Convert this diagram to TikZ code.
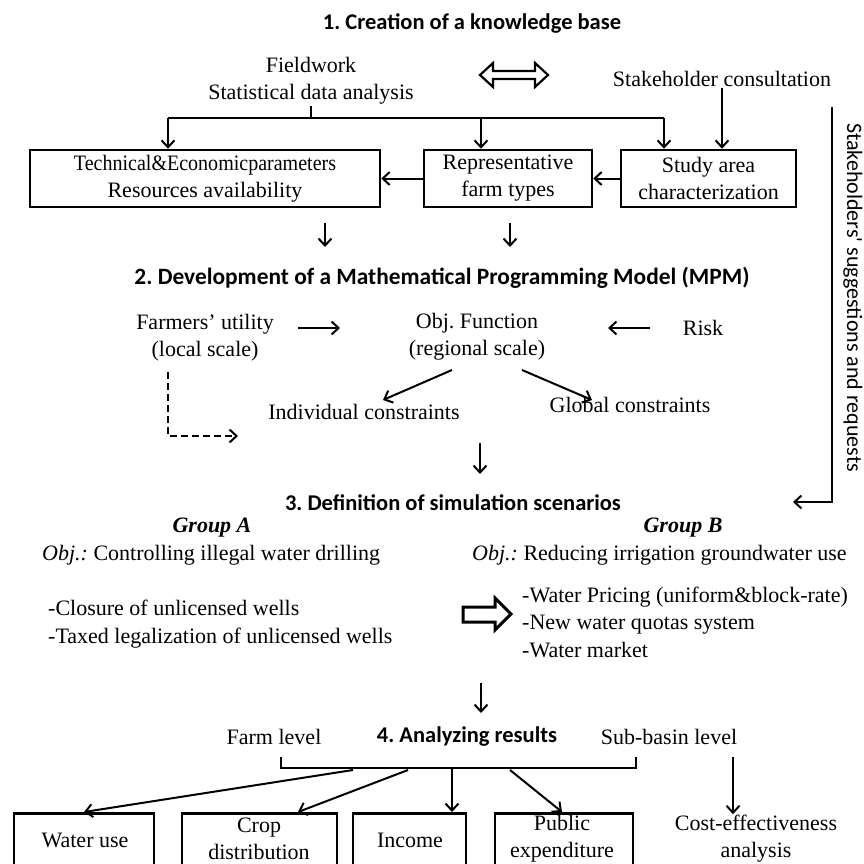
\documentclass[tikz,border=0pt]{standalone}
\usepackage{fontspec}
\usepackage{graphicx}
\setmainfont{Liberation Serif}
\newfontfamily\calfont{Carlito}
\usetikzlibrary{arrows.meta}
\tikzset{
  txt/.style={font=\fontsize{22}{27}\selectfont, inner sep=1pt, align=center},
  ltxt/.style={font=\fontsize{22}{27.5}\selectfont, inner sep=1pt, align=left, anchor=west},
  ttl/.style={font=\calfont\bfseries\fontsize{22.5}{27}\selectfont, inner sep=1pt},
  box/.style={draw, line width=2.5pt, inner sep=0pt, align=center, font=\fontsize{22}{22}\selectfont},
  ln/.style={line width=2pt},
  arr/.style={line width=2pt, -{Straight Barb[length=7pt,width=13pt,line width=2pt]}},
  dsh/.style={line width=2pt, dash pattern=on 7pt off 4pt, -{Straight Barb[length=7pt,width=13pt,line width=2pt]}},
  hollow/.style={draw, line width=2.2pt, line join=miter},
}
\frenchspacing
\begin{document}
\begin{tikzpicture}[x=1pt,y=-1pt]
\useasboundingbox (0,0) rectangle (864,864);
\clip (0,0) rectangle (864,864);

% ---- 1. knowledge base
\node[ttl] (t1) at (472,23) {1. Creation of a knowledge base};
\node[txt] (fw) at (311,81) {Fieldwork\\Statistical data analysis};
\node[txt] (sc) at (722,79) {Stakeholder consultation};
\draw[hollow] (480,75) -- (493,63) -- (493,71) -- (535,71) -- (535,63) -- (548,75)
  -- (535,87) -- (535,79) -- (493,79) -- (493,87) -- cycle;

\node[box, minimum width=350pt, minimum height=57pt] (b1) at (205,178.5)
  {\scalebox{0.91}[1]{Technical\&Economicparameters}\\[5pt]Resources availability};
\node[box, minimum width=168pt, minimum height=57pt] (b2) at (508,178.5)
  {Representative\\[5pt]farm types};
\node[box, minimum width=175pt, minimum height=57pt] (b3) at (708.5,178.5)
  {Study area\\[5pt]characterization};

\coordinate (hl) at (168,118);
\coordinate (hm) at (481,118);
\coordinate (hr) at (664,118);
\draw[ln] (fw.south) -- (fw.south |- hl);
\draw[ln] (hl) -- (hr);
\draw[arr] (hl) -- (hl |- b1.north);
\draw[arr] (hm) -- (hm |- b2.north);
\draw[arr] (hr) -- (hr |- b3.north);
\draw[arr] (sc.south) -- (sc.south |- b3.north);
\draw[arr] (b3.west) -- (b2.east);
\draw[arr] (b2.west) -- (b1.east);

\coordinate (d1a) at (325,223); \coordinate (d1b) at (325,247);
\coordinate (d2a) at (510,223); \coordinate (d2b) at (510,247);
\draw[arr] (d1a) -- (d1b);
\draw[arr] (d2a) -- (d2b);

% ---- 2. MPM
\node[ttl, font=\calfont\bfseries\fontsize{23.4}{27}\selectfont] (t2) at (442,278)
  {2. Development of a Mathematical Programming Model (MPM)};
\node[txt] (fu) at (205,338) {Farmers’ utility\\(local scale)};
\node[txt] (of) at (477,337) {Obj. Function\\(regional scale)};
\node[txt] (risk) at (703,328) {Risk};
\node[txt] (ic) at (364,412) {Individual constraints};
\node[txt] (gc) at (630,405) {Global constraints};

\coordinate (fua) at (298,328); \coordinate (fub) at (340,328);
\coordinate (ra) at (650,328); \coordinate (rb) at (608,328);
\draw[arr] (fua) -- (fub);
\draw[arr] (ra) -- (rb);
\coordinate (oa) at (452,370); \coordinate (ob) at (383,400);
\coordinate (oc) at (522,370); \coordinate (od) at (592,400);
\draw[arr] (oa) -- (ob);
\draw[arr] (oc) -- (od);
\coordinate (da) at (168,372); \coordinate (db) at (168,436); \coordinate (dc) at (238,436);
\draw[dsh] (da) -- (db) -- (dc);
\coordinate (ea) at (480,443); \coordinate (eb) at (480,474);
\draw[arr] (ea) -- (eb);

% ---- feedback
\coordinate (fa) at (832,107); \coordinate (fb) at (832,502); \coordinate (fc) at (793,502);
\draw[arr] (fa) -- (fb) -- (fc);
\node[font=\calfont\fontsize{22}{26}\selectfont, rotate=-90, anchor=base west, inner sep=0pt]
  (sug) at (847,123) {Stakeholders' suggestions and requests};

% ---- 3. scenarios
\node[ttl] (t3) at (453,503) {3. Definition of simulation scenarios};
\node[txt] (ga) at (212,528) {\textbf{\textit{Group A}}};
\node[txt] (gb) at (683,528) {\textbf{\textit{Group B}}};
\node[ltxt] (oba) at (41,555) {\textit{Obj.:} Controlling illegal water drilling};
\node[ltxt] (obb) at (471,555) {\textit{Obj.:} Reducing irrigation groundwater use};
\node[ltxt] (la) at (47,624) {-Closure of unlicensed wells\\-Taxed legalization of unlicensed wells};
\node[ltxt] (lb) at (521,622) {-Water Pricing (uniform\&block-rate)\\-New water quotas system\\-Water market};
\draw[hollow, line width=3pt] (463,607) -- (495,607) -- (495,598) -- (511,614) -- (495,630)
  -- (495,622) -- (463,622) -- cycle;
\coordinate (ga1) at (481,683); \coordinate (ga2) at (481,713);
\draw[arr] (ga1) -- (ga2);

% ---- 4. results
\node[txt] (fl) at (274,737) {Farm level};
\node[ttl] (t4) at (467,737) {4. Analyzing results};
\node[txt] (sb) at (669,737) {Sub-basin level};
\coordinate (bl) at (281,757); \coordinate (br) at (636,757);
\draw[ln] (bl) -- (bl |- 0,768) -- (br |- 0,768) -- (br);

\node[box, minimum width=140pt, minimum height=120pt, anchor=north] (wu) at (84,812) {};
\node[box, minimum width=155pt, minimum height=120pt, anchor=north] (cd) at (259.5,812) {};
\node[box, minimum width=113pt, minimum height=120pt, anchor=north] (inc) at (409.5,812) {};
\node[box, minimum width=138pt, minimum height=120pt, anchor=north] (pe) at (564,812) {};
\node[txt] (wut) at (85,840) {Water use};
\node[txt] (cdt) at (259,839) {Crop\\distribution};
\node[txt] (inct) at (410,840) {Income};
\node[txt] (pet) at (562,839) {Public\\expenditure};
\node[txt] (ce) at (756,839) {Cost-effectiveness\\analysis};

\coordinate (r1) at (353,770); \coordinate (r2) at (408,770);
\coordinate (r3) at (452,768); \coordinate (r4) at (510,770);
\coordinate (cdin) at (298,812);
\coordinate (cea) at (733,757);
\draw[arr] (r1) -- (wu.north);
\draw[arr] (r2) -- (cdin |- cd.north);
\draw[arr] (r3) -- (r3 |- inc.north);
\draw[arr] (r4) -- (562,812 |- pe.north);
\draw[arr] (cea) -- (cea |- ce.north);
\end{tikzpicture}
\end{document}
